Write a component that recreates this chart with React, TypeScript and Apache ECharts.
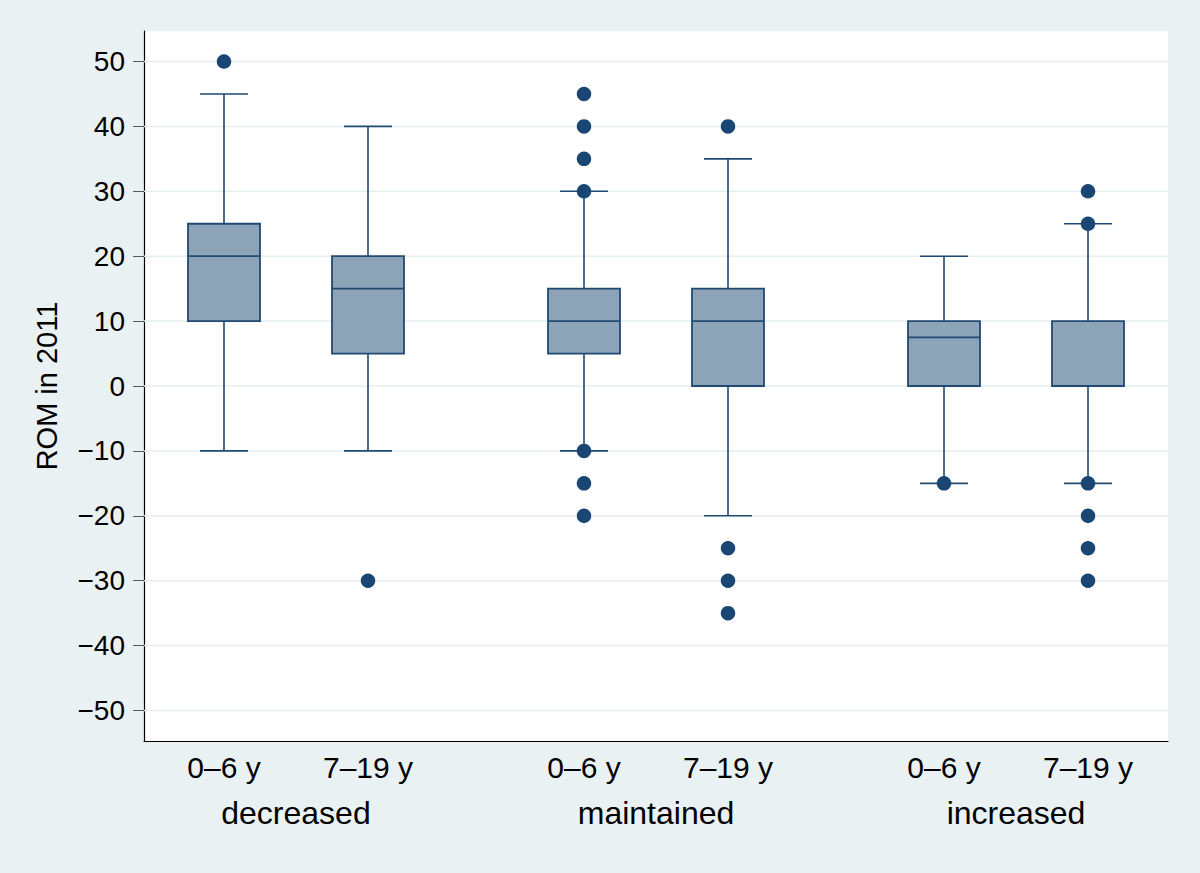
import React, { useEffect, useRef } from "react";
import * as echarts from "echarts";

const ageLabels = ["0–6 y", "7–19 y", "0–6 y", "7–19 y", "0–6 y", "7–19 y"];
const groupLabels = ["decreased", "maintained", "increased"];
const positions = [1, 3, 6, 8, 11, 13];
const groupPositions = [2, 7, 12];
// [lower whisker, Q1, median, Q3, upper whisker]
const boxStats = [
  [-10, 10, 20, 25, 45],
  [-10, 5, 15, 20, 40],
  [-10, 5, 10, 15, 30],
  [-20, 0, 10, 15, 35],
  [-15, 0, 7.5, 10, 20],
  [-15, 0, 0, 10, 25],
];
const outliers = [
  [50],
  [-30],
  [45, 40, 35, 30, -10, -15, -20],
  [40, -25, -30, -35],
  [-15],
  [30, 25, -15, -20, -25, -30],
];
const yTicks = [-50, -40, -30, -20, -10, 0, 10, 20, 30, 40, 50];

const FONT = "'Liberation Sans', Arial, Helvetica, sans-serif";
const STROKE = "#1F4A73";
const FILL = "#8DA3B8";
const DOT = "#1A4674";
const BG = "#EAF1F3";

export default function App() {
  const ref = useRef<HTMLDivElement>(null);
  useEffect(() => {
    document.body.style.margin = "0";
    document.body.style.background = BG;
    if (!ref.current) return;
    const chart = echarts.init(ref.current, null, { renderer: "svg" });
    const boxData = boxStats.map((s, i) => [positions[i], ...s]);
    const outlierData: number[][] = [];
    outliers.forEach((arr, i) => arr.forEach((v) => outlierData.push([positions[i], v])));
    chart.setOption({
      animation: false,
      backgroundColor: BG,
      grid: { left: 144, top: 31, width: 1024, height: 710, backgroundColor: "#ffffff", show: true, borderWidth: 0 },
      xAxis: [
        {
          type: "value",
          min: -0.111,
          max: 14.111,
          axisLine: { show: true, onZero: false, lineStyle: { color: "#000", width: 1.2 } },
          axisTick: { show: false },
          splitLine: { show: false },
          axisLabel: {
            customValues: positions,
            formatter: (v: number) => ageLabels[positions.indexOf(v)] ?? "",
            fontFamily: FONT,
            fontSize: 30,
            color: "#000",
            margin: 11,
          },
        },
        {
          type: "value",
          position: "bottom",
          offset: 50,
          min: -0.111,
          max: 14.111,
          axisLine: { show: false },
          axisTick: { show: false },
          splitLine: { show: false },
          axisLabel: {
            customValues: groupPositions,
            formatter: (v: number) => groupLabels[groupPositions.indexOf(v)] ?? "",
            fontFamily: FONT,
            fontSize: 32,
            color: "#000",
            margin: 6,
          },
        },
      ],
      yAxis: {
        type: "value",
        min: -54.7,
        max: 54.7,
        name: "ROM in 2011",
        nameLocation: "middle",
        nameGap: 83,
        nameTextStyle: { fontFamily: FONT, fontSize: 29, color: "#000" },
        axisLine: { show: true, onZero: false, lineStyle: { color: "#000", width: 1.2 } },
        axisTick: { show: true, customValues: yTicks, length: 11, lineStyle: { color: "#555" } },
        axisLabel: {
          customValues: yTicks,
          formatter: (v: number) => (v < 0 ? "−" + Math.abs(v) : String(v)),
          fontFamily: FONT,
          fontSize: 28,
          color: "#000",
          margin: 19,
        },
        splitLine: { show: false },
      },
      series: [
        {
          type: "custom",
          xAxisIndex: 0,
          data: yTicks,
          renderItem: (params: any, api: any) => {
            const v = api.value(0);
            const p1 = api.coord([-0.111, v]);
            const p2 = api.coord([14.111, v]);
            return {
              type: "line",
              shape: { x1: p1[0], y1: p1[1], x2: p2[0], y2: p2[1] },
              style: { stroke: "#E6EEF0", lineWidth: 1.5 },
              z2: 0,
            };
          },
          encode: { y: 0 },
          silent: true,
          z: 1,
        },
        {
          type: "custom",
          xAxisIndex: 0,
          data: boxData,
          encode: { x: 0, y: [1, 2, 3, 4, 5] },
          z: 3,
          renderItem: (params: any, api: any) => {
            const x = api.value(0);
            const lo = api.coord([x, api.value(1)]);
            const q1 = api.coord([x, api.value(2)]);
            const med = api.coord([x, api.value(3)]);
            const q3 = api.coord([x, api.value(4)]);
            const hi = api.coord([x, api.value(5)]);
            const bw = api.size([1, 0])[0];
            const cw = bw * 0.667;
            const cx = lo[0];
            const ls = { stroke: STROKE, lineWidth: 1.6 };
            return {
              type: "group",
              children: [
                { type: "line", shape: { x1: cx, y1: hi[1], x2: cx, y2: q3[1] }, style: ls },
                { type: "line", shape: { x1: cx, y1: q1[1], x2: cx, y2: lo[1] }, style: ls },
                { type: "line", shape: { x1: cx - cw / 2, y1: hi[1], x2: cx + cw / 2, y2: hi[1] }, style: ls },
                { type: "line", shape: { x1: cx - cw / 2, y1: lo[1], x2: cx + cw / 2, y2: lo[1] }, style: ls },
                {
                  type: "rect",
                  shape: { x: cx - bw / 2, y: q3[1], width: bw, height: q1[1] - q3[1] },
                  style: { fill: FILL, stroke: STROKE, lineWidth: 1.8 },
                },
                { type: "line", shape: { x1: cx - bw / 2, y1: med[1], x2: cx + bw / 2, y2: med[1] }, style: { stroke: STROKE, lineWidth: 1.8 } },
              ],
            };
          },
        },
        {
          type: "scatter",
          xAxisIndex: 0,
          data: outlierData,
          symbol: "circle",
          symbolSize: 14.5,
          itemStyle: { color: DOT, opacity: 1 },
          z: 5,
        },
      ],
    });
    return () => chart.dispose();
  }, []);
  return <div ref={ref} style={{ width: 1200, height: 873 }} />;
}
